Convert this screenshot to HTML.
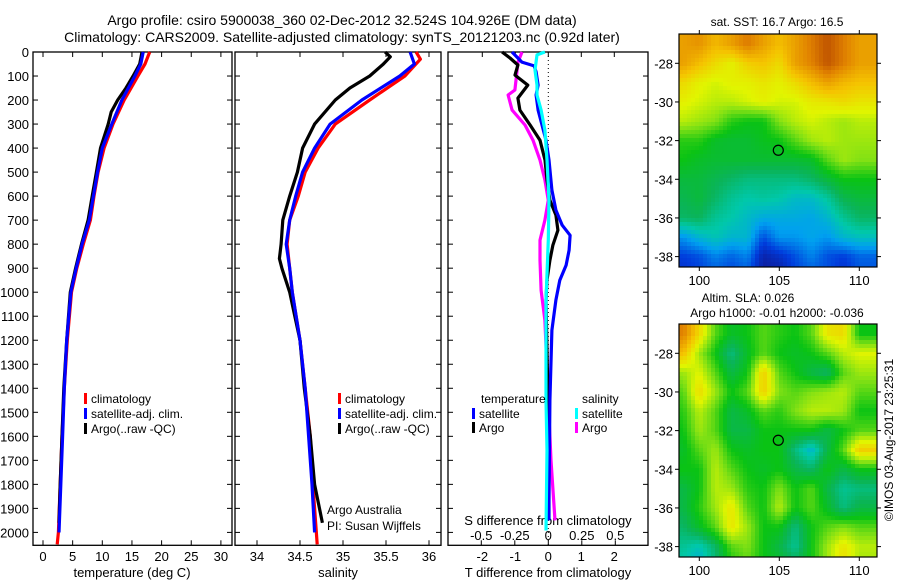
<!DOCTYPE html>
<html><head><meta charset="utf-8"><style>
html,body{margin:0;padding:0;background:#fff;}
svg{display:block;font-family:"Liberation Sans",sans-serif;}
</style></head><body>
<svg id="fig" width="900" height="580" viewBox="0 0 900 580">
<text x="342" y="25" font-size="14" text-anchor="middle">Argo profile: csiro 5900038_360 02-Dec-2012 32.524S 104.926E (DM data)</text>
<text x="342" y="42" font-size="14" text-anchor="middle">Climatology: CARS2009. Satellite-adjusted climatology: synTS_20121203.nc (0.92d later)</text>
<g id="g"></g>
</svg>
<script>
// ---- temperature panel data ----
const tRedDepth=[0,50,100,200,300,400,500,600,700,800,900,1000,1200,1400,1600,1800,2000,2050];
const tRedVal=[18,17.2,16.0,13.7,11.8,10.3,9.3,8.6,8.0,6.8,5.7,4.8,4.1,3.6,3.2,2.9,2.6,2.4];
const tBlueDepth=[0,50,100,200,300,400,500,600,700,800,900,1000,1200,1400,1600,1800,2000];
const tBlueVal=[16.9,16.5,15.5,13.3,11.6,10.0,9.2,8.5,7.8,6.6,5.6,4.7,4.0,3.6,3.3,3.0,2.7];
const tArgoDepth=[0,50,100,150,200,250,300,400,500,600,700,800,900,1000,1200,1400,1600,1800,1960];
const tArgoVal=[16.7,16.3,15.2,14,12.6,11.5,11,9.7,9,8.3,7.6,6.5,5.5,4.6,4.0,3.5,3.2,2.9,2.7];
// ---- salinity panel data ----
const sRedDepth=[0,30,100,200,300,400,500,600,700,800,900,1000,1200,1400,1600,1800,2050];
const sRedVal=[35.85,35.90,35.72,35.31,34.91,34.71,34.56,34.48,34.38,34.35,34.38,34.41,34.50,34.56,34.62,34.65,34.70];
const sBlueDepth=[0,50,100,200,300,400,500,600,700,800,900,1000,1200,1400,1600,1800,2000];
const sBlueVal=[35.78,35.83,35.66,35.22,34.85,34.67,34.53,34.45,34.38,34.34,34.38,34.41,34.50,34.56,34.60,34.64,34.67];
const sArgoDepth=[0,20,50,100,150,200,300,400,500,600,700,800,860,900,1000,1100,1200,1400,1600,1800,1960];
const sArgoVal=[35.49,35.55,35.47,35.31,35.08,34.91,34.67,34.53,34.47,34.38,34.30,34.28,34.26,34.29,34.38,34.44,34.50,34.55,34.62,34.67,34.76];
// ---- difference panel data ----
const dTSatDepth=[0,42,58,83,138,179,242,304,367,450,575,658,721,763,825,888,950,1033,1158,1450,1867,1950];
const dTSatVal=[-1.1,-0.8,-0.43,-0.37,-0.31,-0.37,-0.31,-0.19,-0.07,0.02,0.11,0.23,0.42,0.66,0.63,0.54,0.35,0.23,0.11,0.05,0.02,0.02];
const dTArgoDepth=[0,25,54,96,138,192,242,304,367,450,533,617,679,742,804,867,950,1033,1242,1450,1867,1950];
const dTArgoVal=[-1.40,-1.16,-0.92,-1.01,-0.62,-0.92,-0.86,-0.55,-0.25,-0.10,-0.04,0.05,0.23,0.29,0.14,0.05,-0.04,-0.07,-0.04,-0.01,-0.01,-0.04];
const dSArgoDepth=[0,42,83,158,179,242,304,367,450,533,617,700,783,867,992,1117,1450,1700,1950];
const dSArgoVal=[-0.196,-0.226,-0.234,-0.249,-0.30,-0.27,-0.174,-0.114,-0.062,-0.025,0,-0.025,-0.062,-0.062,-0.054,-0.025,0,0.02,0.05];
const dSSatDepth=[0,12,75,138,179,242,325,450,617,783,1033,1450,1658,1992];
const dSSatVal=[-0.025,-0.084,-0.099,-0.084,-0.084,-0.054,-0.025,-0.01,0.005,0,-0.017,-0.017,-0.01,-0.017];
// ---- tick labels ----
const depthTicks=[0,100,200,300,400,500,600,700,800,900,1000,1100,1200,1300,1400,1500,1600,1700,1800,1900,2000];
const tTicks=[0,5,10,15,20,25,30];
const sTicks=[34,34.5,35,35.5,36];
const dTTicks=[-2,-1,0,1,2];
const dSTicks=[-0.5,-0.25,0,0.25,0.5];
const lonTicks=[100,105,110];
const latTicks=[-28,-30,-32,-34,-36,-38];
// ---- map grids (colour index 0..1), rows lat -27..-38.5, cols lon 99..110 ----
const sstGrid=[
[.8,.82,.76,.8,.86,.8,.75,.8,.86,.92,.86,.8],
[.8,.75,.7,.66,.72,.74,.7,.8,.85,.92,.86,.8],
[.7,.66,.64,.66,.66,.68,.66,.7,.75,.8,.76,.74],
[.66,.64,.62,.62,.64,.66,.64,.64,.67,.68,.7,.68],
[.62,.6,.58,.52,.5,.5,.58,.62,.64,.62,.6,.62],
[.52,.52,.48,.47,.47,.49,.5,.55,.6,.62,.6,.6],
[.5,.48,.47,.47,.47,.47,.47,.47,.48,.55,.6,.58],
[.46,.46,.44,.42,.4,.4,.4,.4,.42,.46,.5,.5],
[.44,.46,.42,.38,.36,.37,.36,.33,.33,.37,.44,.46],
[.42,.43,.38,.36,.33,.3,.3,.3,.29,.32,.38,.42],
[.27,.32,.35,.32,.32,.2,.27,.27,.29,.27,.32,.34],
[.18,.2,.25,.22,.25,.12,.15,.2,.25,.2,.18,.22],
[.15,.18,.2,.18,.2,.1,.1,.18,.2,.2,.15,.2]];
const slaGrid=[
[.85,.7,.55,.48,.5,.55,.52,.5,.55,.68,.7,.5],
[.75,.6,.5,.4,.48,.55,.5,.48,.5,.55,.62,.65],
[.6,.65,.55,.45,.5,.72,.55,.5,.45,.42,.55,.6],
[.55,.7,.6,.5,.55,.72,.58,.55,.58,.6,.62,.55],
[.52,.62,.55,.45,.48,.55,.52,.58,.62,.62,.6,.5],
[.5,.6,.55,.45,.45,.5,.5,.5,.5,.45,.5,.55],
[.48,.55,.6,.5,.48,.5,.5,.4,.32,.45,.55,.72],
[.5,.5,.62,.55,.5,.48,.5,.45,.42,.5,.45,.5],
[.45,.5,.62,.6,.52,.5,.58,.5,.55,.45,.38,.4],
[.45,.52,.6,.68,.55,.5,.62,.5,.55,.48,.4,.45],
[.42,.48,.55,.68,.6,.5,.5,.4,.5,.55,.58,.55],
[.38,.35,.42,.55,.58,.5,.45,.38,.5,.6,.68,.62],
[.35,.3,.4,.5,.55,.5,.48,.45,.5,.6,.7,.6]];
const gridLats=[-27,-28,-29,-30,-31,-32,-33,-34,-35,-36,-37,-38,-39];

const NS="http://www.w3.org/2000/svg";
const G=document.getElementById('g');
function mk(tag,attrs,parent){const e=document.createElementNS(NS,tag);for(const k in attrs)e.setAttribute(k,attrs[k]);(parent||G).appendChild(e);return e;}
function txt(x,y,s,size,anchor,name){const t=mk('text',{x:x,y:y,'font-size':size,'text-anchor':anchor||'start'});t.textContent=s;


return t;}

const TOP=52, BOT=545.3;
const yD=d=>TOP+d*0.2402;
function panel(x0,x1,name){const r=mk('rect',{x:x0,y:TOP,width:x1-x0,height:BOT-TOP,fill:'none',stroke:'#000','stroke-width':1.3});


depthTicks.forEach(d=>{mk('line',{x1:x0,x2:x0+5,y1:yD(d),y2:yD(d),stroke:'#000'});mk('line',{x1:x1,x2:x1-5,y1:yD(d),y2:yD(d),stroke:'#000'});});}
function line(depths,vals,xf,color,name){const pts=depths.map((d,i)=>xf(vals[i]).toFixed(1)+','+yD(d).toFixed(1)).join(' ');
const p=mk('polyline',{points:pts,fill:'none',stroke:color,'stroke-width':3.2,'stroke-linejoin':'round'});

}

// Panel 1: temperature
const xT=v=>43+v*5.93;
panel(33,232,'temperature-panel');
depthTicks.forEach(d=>txt(29,yD(d)+5,String(d),13,'end','depth-tick-label'));
tTicks.forEach(v=>{mk('line',{x1:xT(v),x2:xT(v),y1:BOT,y2:BOT-5,stroke:'#000'});mk('line',{x1:xT(v),x2:xT(v),y1:TOP,y2:TOP+5,stroke:'#000'});txt(xT(v),561,String(v),13,'middle','temperature-tick-label');});
txt(132,577,'temperature (deg C)',13,'middle','temperature-axis-title');
line(tRedDepth,tRedVal,xT,'#ff0000','temperature-climatology-line');
line(tArgoDepth,tArgoVal,xT,'#000000','temperature-argo-line');
line(tBlueDepth,tBlueVal,xT,'#0000ff','temperature-satellite-line');

// Panel 2: salinity
const xS=v=>257+(v-34)*86;
panel(235,441,'salinity-panel');
sTicks.forEach(v=>{mk('line',{x1:xS(v),x2:xS(v),y1:BOT,y2:BOT-5,stroke:'#000'});mk('line',{x1:xS(v),x2:xS(v),y1:TOP,y2:TOP+5,stroke:'#000'});txt(xS(v),561,String(v),13,'middle','salinity-tick-label');});
txt(338,577,'salinity',13,'middle','salinity-axis-title');
line(sRedDepth,sRedVal,xS,'#ff0000','salinity-climatology-line');
line(sArgoDepth,sArgoVal,xS,'#000000','salinity-argo-line');
line(sBlueDepth,sBlueVal,xS,'#0000ff','salinity-satellite-line');
txt(327,514,'Argo Australia',12,'start','pi-institution');
txt(327,530,'PI: Susan Wijffels',12,'start','pi-name');

// legends panels 1 & 2
function legend(x,y,label,color,name){const r=mk('rect',{x:x,y:y-10,width:3,height:11,fill:color});


txt(x+7,y,label,12,'start',name);}
[[84,'climatology'],[84,'satellite-adj. clim.'],[84,'Argo(..raw -QC)']].forEach((a,i)=>{legend(a[0],403+i*15,a[1],['#f00','#00f','#000'][i],'legend-entry');legend(338,403+i*15,a[1],['#f00','#00f','#000'][i],'legend-entry');});

// Panel 3: differences
const xdT=v=>548.3+v*33;
const xdS=v=>548.3+v*134;
panel(448,648,'difference-panel');
mk('line',{x1:xdT(0),x2:xdT(0),y1:TOP,y2:BOT,stroke:'#000','stroke-dasharray':'1,3'});
dTTicks.forEach(v=>{mk('line',{x1:xdT(v),x2:xdT(v),y1:TOP,y2:TOP+5,stroke:'#000'});txt(xdT(v),561,String(v),13,'middle','t-difference-tick-label');});
dSTicks.forEach(v=>{mk('line',{x1:xdS(v),x2:xdS(v),y1:BOT,y2:BOT-5,stroke:'#000'});txt(xdS(v),540,String(v),13,'middle','s-difference-tick-label');});
txt(548,525,'S difference from climatology',13,'middle','s-difference-axis-title');
txt(548,577,'T difference from climatology',13,'middle','t-difference-axis-title');
line(dSArgoDepth,dSArgoVal,xdS,'#ff00ff','salinity-argo-difference-line');
line(dTArgoDepth,dTArgoVal,xdT,'#000000','temperature-argo-difference-line');
line(dTSatDepth,dTSatVal,xdT,'#0000ff','temperature-satellite-difference-line');
line(dSSatDepth,dSSatVal,xdS,'#00ffff','salinity-satellite-difference-line');
txt(481,403,'temperature',12,'start','legend-temperature-heading');
txt(582,403,'salinity',12,'start','legend-salinity-heading');
legend(472,418,'satellite','#00f','legend-entry');
legend(472,432,'Argo','#000','legend-entry');
legend(575,418,'satellite','#0ff','legend-entry');
legend(575,432,'Argo','#f0f','legend-entry');

// Maps
const cmap=[[0.08,[16,20,140]],[0.18,[0,60,220]],[0.28,[0,160,240]],[0.36,[0,200,170]],[0.43,[10,180,90]],[0.5,[10,195,20]],[0.58,[130,225,20]],[0.65,[225,245,0]],[0.74,[245,195,0]],[0.85,[225,130,0]],[0.96,[175,60,0]]];
function col(v){if(v<=cmap[0][0])return cmap[0][1];for(let i=1;i<cmap.length;i++){if(v<=cmap[i][0]){const a=cmap[i-1],b=cmap[i],t=(v-a[0])/(b[0]-a[0]);return a[1].map((c,k)=>Math.round(c+(b[1][k]-c)*t));}}return cmap[cmap.length-1][1];}
function drawMap(x0,y0,grid,name){
 const x1=x0+198,y1=y0+233;
 const lonX=l=>x0+100.3+(l-105)*16;
 const latY=l=>y0+29.3+(-28-l)*19.33;
 const g=mk('g',{});
 
 
 const cell=4;
 function val(lon,lat){let c=Math.min(Math.max(lon-99,0),10.999);const ci=Math.floor(c),cf=c-ci;
  let ri=0;while(ri<gridLats.length-2&&lat<gridLats[ri+1])ri++;
  let rf=(gridLats[ri]-lat)/(gridLats[ri]-gridLats[ri+1]);rf=Math.min(Math.max(rf,0),1);
  const a=grid[ri][ci],b=grid[ri][ci+1],c2=grid[ri+1][ci],d=grid[ri+1][ci+1];
  return (a*(1-cf)+b*cf)*(1-rf)+(c2*(1-cf)+d*cf)*rf;}
 for(let y=y0;y<y1;y+=cell){for(let x=x0;x<x1;x+=cell){
  const lon=105+(x+cell/2-lonX(105))/16, lat=-28-(y+cell/2-latY(-28))/19.33;
  const c=col(val(lon,lat));
  mk('rect',{x:x,y:y,width:Math.min(cell,x1-x),height:Math.min(cell,y1-y),fill:'rgb('+c.join(',')+')'},g);}}
 mk('rect',{x:x0,y:y0,width:198,height:233,fill:'none',stroke:'#000','stroke-width':1.2},g);
 const c=mk('circle',{cx:lonX(105)-1,cy:latY(-32.5),r:5,fill:'none',stroke:'#000','stroke-width':1.2},g);
 
 
 lonTicks.forEach(l=>{mk('line',{x1:lonX(l),x2:lonX(l),y1:y1,y2:y1+4,stroke:'#000'},g);mk('line',{x1:lonX(l),x2:lonX(l),y1:y0,y2:y0-4,stroke:'#000'},g);txt(lonX(l),y1+18,String(l),13,'middle','longitude-tick-label');});
 latTicks.forEach(l=>{mk('line',{x1:x0,x2:x0-4,y1:latY(l),y2:latY(l),stroke:'#000'},g);mk('line',{x1:x1,x2:x1+4,y1:latY(l),y2:latY(l),stroke:'#000'},g);txt(x0-6,latY(l)+5,String(l),13,'end','latitude-tick-label');});
}
drawMap(679,34,sstGrid,'sst-map');
drawMap(679,324,slaGrid,'sla-map');
txt(777,26,'sat. SST: 16.7 Argo: 16.5',12,'middle','sst-map-title');
txt(748,302,'Altim. SLA: 0.026',12,'middle','sla-map-title');
txt(777,317,'Argo h1000: -0.01 h2000: -0.036',12,'middle','sla-map-subtitle');
const im=txt(0,0,'©IMOS 03-Aug-2017 23:25:31',12,'middle','timestamp');
im.setAttribute('transform','translate(893,440) rotate(-90)');
</script>
</body></html>
